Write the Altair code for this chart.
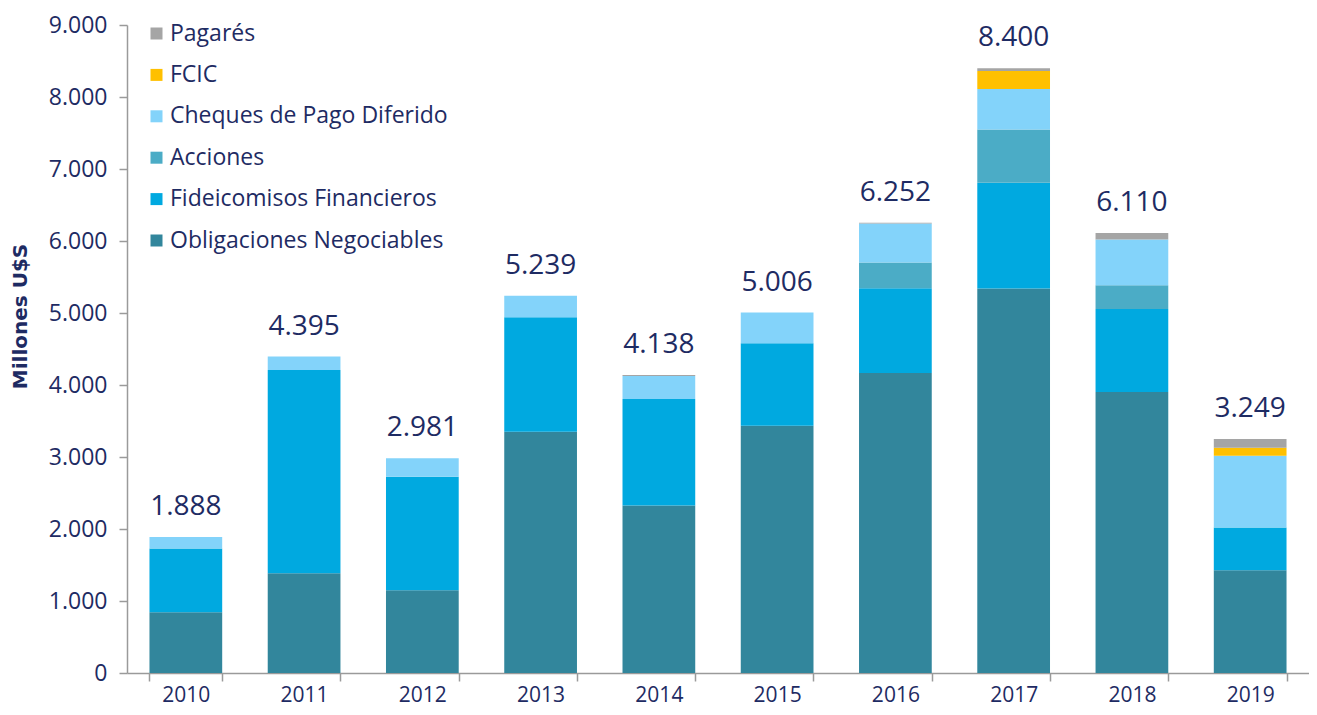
import altair as alt
import pandas as pd

years = ["2010", "2011", "2012", "2013", "2014", "2015", "2016", "2017", "2018", "2019"]
series = ["Obligaciones Negociables", "Fideicomisos Financieros", "Acciones",
          "Cheques de Pago Diferido", "FCIC", "Pagarés"]
on = [844, 1384, 1149, 3349, 2325, 3433, 4166, 5340, 3903, 1426]
ff = [886, 2824, 1578, 1592, 1481, 1148, 1177, 1470, 1153, 595]
acc = [0, 0, 0, 0, 0, 0, 359, 737, 328, 0]
cpd = [158, 187, 254, 298, 320, 425, 540, 564, 637, 996]
fcic = [0, 0, 0, 0, 0, 0, 0, 249, 0, 111]
pag = [0, 0, 0, 0, 12, 0, 10, 40, 89, 121]
totals = [1888, 4395, 2981, 5239, 4138, 5006, 6252, 8400, 6110, 3249]
total_labels = ["1.888", "4.395", "2.981", "5.239", "4.138", "5.006", "6.252", "8.400", "6.110", "3.249"]
colors = ["#32869C", "#00A9E0", "#4BACC6", "#83D3FA", "#FFC000", "#A5A5A5"]

rows = []
for i, y in enumerate(years):
    for k, (name, vals) in enumerate(zip(series, [on, ff, acc, cpd, fcic, pag])):
        rows.append({"year": y, "serie": name, "valor": vals[i], "orden": k})
df = pd.DataFrame(rows)
tot = pd.DataFrame({"year": years, "total": totals, "label": total_labels})

navy = "#1E2B63"
font = "Open Sans"

x = alt.X("year:N", title=None, sort=years,
          scale=alt.Scale(paddingInner=0.385, paddingOuter=0.19),
          axis=alt.Axis(labelFontSize=21, labelColor=navy, labelFont=font, labelAngle=0,
                        domainColor="#9A9A9A", tickColor="#9A9A9A", tickBand="extent",
                        tickSize=8, labelPadding=3, domainWidth=1.5, tickWidth=1.5))

bars = alt.Chart(df).mark_bar().encode(
    x=x,
    y=alt.Y("valor:Q", stack="zero", title="Millones U$S",
            scale=alt.Scale(domain=[0, 9000], nice=False),
            axis=alt.Axis(values=list(range(0, 9001, 1000)), grid=False,
                          labelExpr="replace(format(datum.value, ',.0f'), ',', '.')",
                          labelFontSize=23, labelColor=navy, labelFont=font,
                          titleFontSize=20, titleColor=navy, titleFont="DejaVu Sans",
                          titleFontWeight="bold",
                          titleX=-107, titleY=291, titleAlign="center", titleBaseline="middle",
                          titleAngle=-90,
                          domainColor="#9A9A9A", tickColor="#9A9A9A", tickSize=8,
                          domainWidth=1.5, tickWidth=1.5, labelPadding=12)),
    color=alt.Color("serie:N",
                    scale=alt.Scale(domain=series[::-1], range=colors[::-1]),
                    legend=alt.Legend(title=None, orient="none", legendX=18, legendY=-3,
                                      symbolType="square", symbolSize=144, symbolStrokeWidth=0,
                                      labelFontSize=23, labelColor=navy, labelFont=font,
                                      labelLimit=500, rowPadding=17.4, labelOffset=2)),
    order=alt.Order("orden:Q", sort="ascending"),
)

text = alt.Chart(tot).mark_text(baseline="bottom", dy=-16, fontSize=28, color=navy, font=font).encode(
    x=alt.X("year:N", sort=years),
    y=alt.Y("total:Q"),
    text="label:N",
)

chart = alt.layer(bars, text).properties(
    width=1182, height=648,
    padding={"left": 119, "top": 17, "right": 0, "bottom": 34},
    autosize=alt.AutoSizeParams(type="none"),
    background="white",
).configure_view(stroke=None)

chart.save("out.html", embed_options={"renderer": "svg", "actions": False})
